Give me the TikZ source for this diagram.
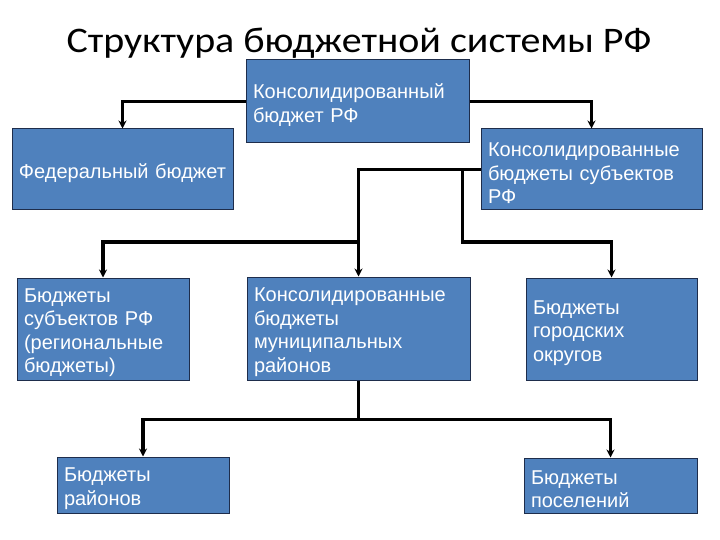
\documentclass[tikz,border=0pt]{standalone}
\usepackage{fontspec}
\setmainfont{Liberation Sans}
\newfontfamily\titlefont[FakeStretch=1.11]{Carlito}
\usepackage{tikz}
\usetikzlibrary{arrows.meta, calc}

\definecolor{boxblue}{RGB}{79,129,189}
\definecolor{boxline}{RGB}{30,45,75}

\begin{document}
\begin{tikzpicture}[x=1pt, y=-1pt,
    budget/.style={rectangle, draw=boxline, line width=1pt, fill=boxblue, text=white,
      font=\fontsize{20}{23.5}\selectfont, align=left, inner xsep=7pt, inner ysep=0pt,
      execute at begin node={\rule{0pt}{21.5pt}}},
    link/.style={line width=3.6pt, -{Stealth[length=8pt, width=8pt]}}]
  \useasboundingbox (0,0) rectangle (720,540);

  \node[font=\titlefont\fontsize{36}{40}\selectfont, anchor=base] (title) at (359,53) {Структура бюджетной системы РФ};

  \node[budget, text width=209pt, minimum height=83pt] (cons) at (357.5,101.5) {Консолидированный\\бюджет РФ};
  \node[budget, text width=207pt, minimum height=81pt] (fed) at (122.5,169.5) {Федеральный бюджет};
  \node[budget, text width=207pt, minimum height=81pt] (subj) at (591.5,169.5) {Консолидированные\\бюджеты субъектов\\РФ};

  \node[budget, text width=158pt, minimum height=102pt] (reg) at (103,329) {Бюджеты\\субъектов РФ\\(региональные\\бюджеты)};
  \node[budget, text width=209pt, minimum height=103pt] (mun) at (358.5,328.5) {Консолидированные\\бюджеты\\муниципальных\\районов};
  \node[budget, text width=157pt, minimum height=102pt] (city) at (611.5,329) {Бюджеты\\городских\\округов};

  \node[budget, text width=158pt, minimum height=56pt] (dist) at (143,485) {Бюджеты\\районов};
  \node[budget, text width=159pt, minimum height=55pt] (settl) at (610.5,485.5) {Бюджеты\\поселений};

  \coordinate (split) at ($(subj.west)+(-18,0)$);
  \coordinate (lbranch) at ($(mun.north |- 0,242)$);
  \coordinate (hub) at ($(mun.south)+(0,39)$);

  \draw[link] (cons.west) -| (fed.north);
  \draw[link] (cons.east) -| (subj.north);
  \draw[link] (subj.west) -| (mun.north);
  \draw[link] (split) |- (city.north |- lbranch) -- (city.north);
  \draw[link] (lbranch) -| (reg.north);
  \draw[line width=3.6pt] (mun.south) -- (hub);
  \draw[link] (hub) -| (dist.north);
  \draw[link] (hub) -| (settl.north);
\end{tikzpicture}
\end{document}
